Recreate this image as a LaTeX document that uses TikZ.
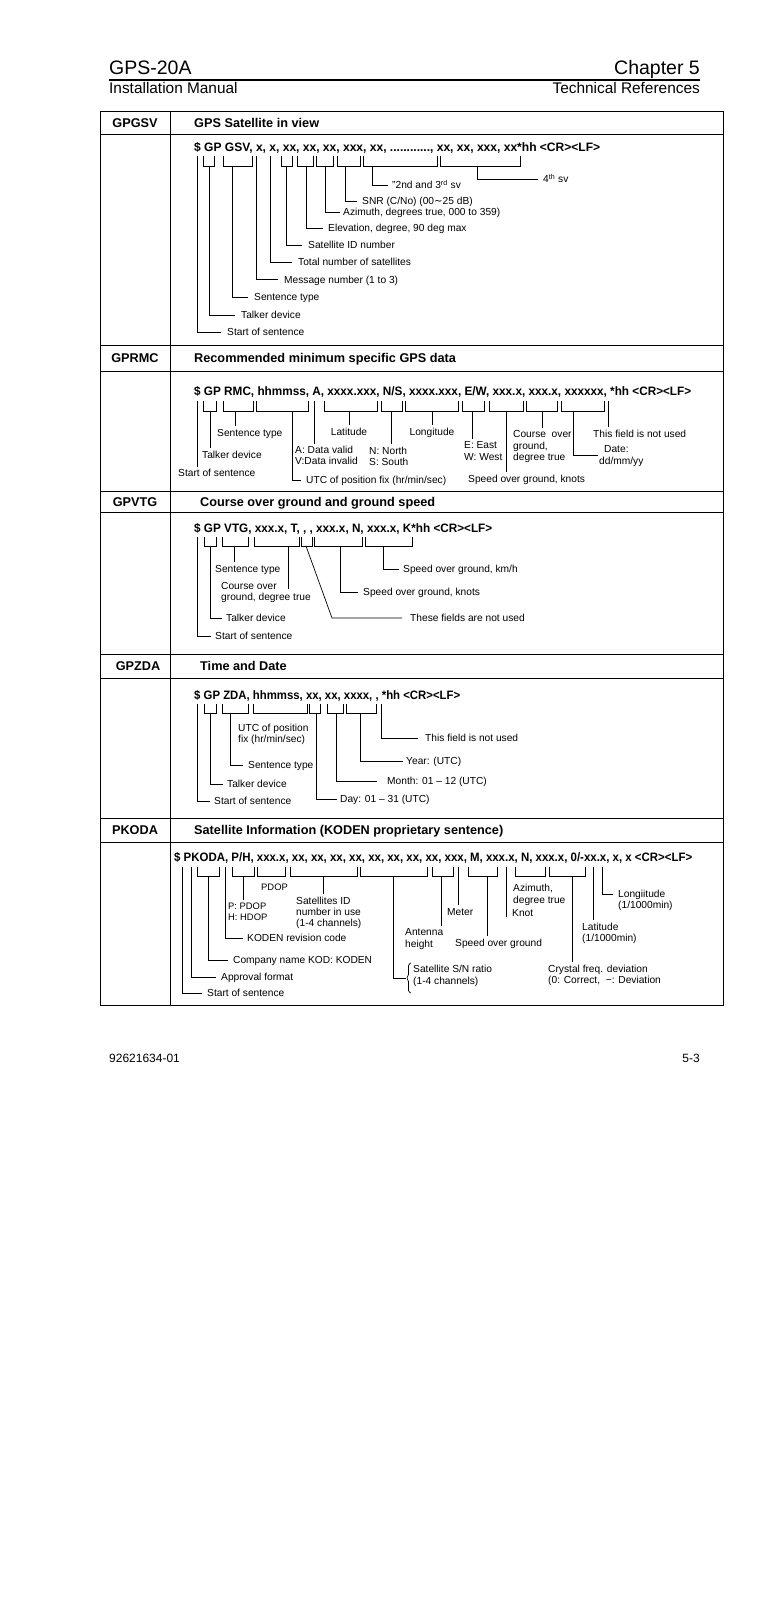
\documentclass[tikz,border=0pt]{standalone}
\usepackage{fontspec}
\usepackage{graphicx}
\setmainfont{Liberation Sans}
\newfontfamily\dvs{DejaVu Sans}
\newcommand\lblf{\fontsize{10.2}{11.4}\selectfont}
\newcommand\lblsf{\fontsize{9.4}{11.4}\selectfont}
\newcommand\snf{\fontsize{12.2}{14}\selectfont\bfseries}
\newcommand\hdf{\fontsize{12.7}{14}\selectfont\bfseries}
\newcommand\sent[2]{\resizebox{#1pt}{\height}{\snf #2}}
\begin{document}
\begin{tikzpicture}[x=1pt,y=-1pt,
  tbl/.style={line width=1pt},
  ln/.style={line width=0.7pt},
  lab/.style={font=\lblf, inner sep=0pt, anchor=west, text height=7.3pt, text depth=0pt},
  mlab/.style={font=\lblf, inner sep=0pt, anchor=north west, align=left},
  snt/.style={inner sep=0pt, anchor=base west},
  rowlab/.style={font=\hdf, inner sep=0pt, anchor=base},
  hdr/.style={font=\hdf, inner sep=0pt, anchor=base west},
  pghd/.style={font=\fontsize{19.5}{22}\selectfont, inner sep=0pt},
  pgsub/.style={font=\fontsize{15.4}{18}\selectfont, inner sep=0pt},
  foot/.style={font=\fontsize{12}{14}\selectfont, inner sep=0pt}]
\useasboundingbox (0,0) rectangle (778,1600);
\fill[white] (0,0) rectangle (778,1600);

% ---------- page header ----------
\node[pghd, anchor=base west] (model) at (109,75) {GPS-20A};
\node[pghd, anchor=base east] (chap) at (700,75) {Chapter 5};
\coordinate (rulel) at (109,80);
\coordinate (ruler) at (700,80);
\draw[line width=1.3pt] (rulel) -- (ruler);
\node[pgsub, anchor=base west] (manual) at (109,94) {Installation Manual};
\node[pgsub, anchor=base east] (techref) at (700,94) {Technical References};

% ---------- table ----------
\draw[tbl] (100,112) rectangle (723,1005);
\draw[tbl] (170,112) -- (170,1005);
\foreach \yy in {135,345,371,491,512,654,678,818,842} \draw[tbl] (100,\yy) -- (723,\yy);

\node[rowlab] (r1) at (135,128) {GPGSV};
\node[hdr] (h1) at (194,128) {GPS Satellite in view};
\node[rowlab] (r2) at (135,362.5) {GPRMC};
\node[hdr] (h2) at (194,362.5) {Recommended minimum specific GPS data};
\node[rowlab] (r3) at (135,506) {GPVTG};
\node[hdr] (h3) at (200,506) {Course over ground and ground speed};
\node[rowlab] (r4) at (138,670.5) {GPZDA};
\node[hdr] (h4) at (200,670.5) {Time and Date};
\node[rowlab] (r5) at (135,834.5) {PKODA};
\node[hdr] (h5) at (194,834.5) {Satellite Information (KODEN proprietary sentence)};

% ---------- GPGSV ----------
\node[snt] (s1) at (194,151) {\sent{406}{\$ GP GSV, x, x, xx, xx, xx, xxx, xx, ............, xx, xx, xxx, xx*hh <CR><LF>}};
\node[lab] (gsv-sos) at (227,332) {Start of sentence};
\draw[ln] (197,156) |- ([xshift=-6pt]gsv-sos.west);
\draw[ln] (203,156) |- (214,166) -- (214,156);
\node[lab] (gsv-td) at (241,315) {Talker device};
\draw[ln] (209,166) |- ([xshift=-6pt]gsv-td.west);
\draw[ln] (223,156) |- (252,166) -- (252,156);
\node[lab] (gsv-st) at (254,297) {Sentence type};
\draw[ln] (232,166) |- ([xshift=-6pt]gsv-st.west);
\node[lab] (gsv-mn) at (284,279.5) {Message number (1 to 3)};
\draw[ln] (256.5,156) |- ([xshift=-6pt]gsv-mn.west);
\node[lab] (gsv-tn) at (298,262) {Total number of satellites};
\draw[ln] (270,156) |- ([xshift=-6pt]gsv-tn.west);
\draw[ln] (281,156) |- (292,166) -- (292,156);
\node[lab] (gsv-id) at (308,245) {Satellite ID number};
\draw[ln] (286,166) |- ([xshift=-6pt]gsv-id.west);
\draw[ln] (297,156) |- (313,166) -- (313,156);
\node[lab] (gsv-el) at (328,228) {Elevation, degree, 90 deg max};
\draw[ln] (306,166) |- ([xshift=-5pt]gsv-el.west);
\draw[ln] (316,156) |- (333,166) -- (333,156);
\node[lab] (gsv-az) at (343,212) {Azimuth, degrees true, 000 to 359)};
\draw[ln] (325,166) |- ([xshift=-3pt]gsv-az.west);
\draw[ln] (337,156) |- (360,166) -- (360,156);
\node[lab] (gsv-snr) at (362,201) {SNR (C/No) (00{\dvs ∼}25 dB)};
\draw[ln] (345,166) |- ([xshift=-5pt]gsv-snr.west);
\draw[ln] (363,156) |- (437,166) -- (437,156);
\node[lab] (gsv-23) at (392,185) {"2nd and 3\textsuperscript{rd} sv};
\draw[ln] (372,166) |- ([xshift=-4pt]gsv-23.west);
\draw[ln] (440,156) |- (520,166) -- (520,156);
\node[lab] (gsv-4) at (543,179) {4\textsuperscript{th} sv};
\draw[ln] (477,166) |- ([xshift=-5pt]gsv-4.west);

% ---------- GPRMC ----------
\node[snt] (s2) at (194,395) {\sent{497}{\$ GP RMC, hhmmss, A, xxxx.xxx, N/S, xxxx.xxx, E/W, xxx.x, xxx.x, xxxxxx, *hh <CR><LF>}};
\node[lab] (rmc-sos) at (178,473) {Start of sentence};
\draw[ln] (197,401) -- ([yshift=2pt]rmc-sos.north -| 197,0);
\draw[ln] (203,401) |- (216,411) -- (216,401);
\node[lab] (rmc-td) at (202,455) {Talker device};
\draw[ln] (210,411) -- ([yshift=3pt]rmc-td.north -| 210,0);
\draw[ln] (223,401) |- (253,411) -- (253,401);
\node[lab] (rmc-st) at (217,433) {Sentence type};
\draw[ln] (235,411) -- ([yshift=3pt]rmc-st.north -| 235,0);
\draw[ln] (256,401) |- (308,411) -- (308,401);
\node[lab] (rmc-utc) at (306,480) {UTC of position fix (hr/min/sec)};
\draw[ln] (292,411) |- ([xshift=-5pt]rmc-utc.west);
\node[mlab] (rmc-a) at (295,445.5) {A: Data valid\\V:Data invalid};
\draw[ln] (314,401) -- ([yshift=2pt]rmc-a.north -| 314,0);
\draw[ln] (324,401) |- (377,411) -- (377,401);
\node[lab, anchor=center] (rmc-lat) at (349,432) {Latitude};
\draw[ln] (349,411) -- ([yshift=3pt]rmc-lat.north);
\draw[ln] (381,401) |- (402,411) -- (402,401);
\node[mlab] (rmc-ns) at (369,447) {N: North\\S: South};
\draw[ln] (391,411) -- ([yshift=3pt]rmc-ns.north -| 391,0);
\draw[ln] (405,401) |- (458,411) -- (458,401);
\node[lab, anchor=center] (rmc-lon) at (432,432) {Longitude};
\draw[ln] (432,411) -- ([yshift=3pt]rmc-lon.north);
\draw[ln] (462,401) |- (484,411) -- (484,401);
\node[mlab] (rmc-ew) at (464,441.5) {E: East\\W: West};
\draw[ln] (472,411) -- ([yshift=3pt]rmc-ew.north -| 472,0);
\draw[ln] (489,401) |- (523,411) -- (523,401);
\node[lab] (rmc-sog) at (468,479) {Speed over ground, knots};
\draw[ln] (506,411) -- ([yshift=3pt]rmc-sog.north -| 506,0);
\draw[ln] (526,401) |- (557,411) -- (557,401);
\node[mlab] (rmc-cog) at (513,430.5) {Course\ \ over\\ground,\\degree true};
\draw[ln] (542,411) -- ([yshift=3pt]rmc-cog.north -| 542,0);
\draw[ln] (561,401) |- (604,411) -- (604,401);
\node[lab] (rmc-date) at (604,449) {Date:};
\node[lab] (rmc-dmy) at (599,461) {dd/mm/yy};
\coordinate (rmc-dl) at (598,455);
\draw[ln] (573,411) |- (rmc-dl);
\node[lab] (rmc-nu) at (593,434) {This field is not used};
\draw[ln] (608,401) -- ([yshift=3pt]rmc-nu.north -| 608,0);

% ---------- GPVTG ----------
\node[snt] (s3) at (194,532) {\sent{298}{\$ GP VTG, xxx.x, T, , , xxx.x, N, xxx.x, K*hh <CR><LF>}};
\node[lab] (vtg-sos) at (215,636) {Start of sentence};
\draw[ln] (197,537) |- ([xshift=-4pt]vtg-sos.west);
\draw[ln] (204,537) |- (216,546) -- (216,537);
\node[lab] (vtg-td) at (226,618) {Talker device};
\draw[ln] (210,546) |- ([xshift=-4pt]vtg-td.west);
\draw[ln] (222,537) |- (248,546) -- (248,537);
\node[lab] (vtg-st) at (215,569) {Sentence type};
\draw[ln] (234,546) -- ([yshift=3pt]vtg-st.north -| 234,0);
\draw[ln] (254,537) |- (299,546) -- (299,537);
\node[mlab] (vtg-cog) at (221,582) {Course over\\ground, degree true};
\draw[ln] (288,546) -- (288,589);
\draw[ln] (301,537) |- (312,546) -- (312,537);
\node[lab] (vtg-nu) at (410,618) {These fields are not used};
\coordinate (vtg-bend) at (332,618);
\draw[ln] (306,546) -- (vtg-bend) -- ([xshift=-8pt]vtg-nu.west);
\draw[ln] (314,537) |- (362,546) -- (362,537);
\node[lab] (vtg-kn) at (363,592) {Speed over ground, knots};
\draw[ln] (340,546) |- ([xshift=-5pt]vtg-kn.west);
\draw[ln] (365,537) |- (412,546) -- (412,537);
\node[lab] (vtg-km) at (403,569) {Speed over ground, km/h};
\draw[ln] (383,546) |- ([xshift=-4pt]vtg-km.west);

% ---------- GPZDA ----------
\node[snt] (s4) at (194,699) {\sent{266}{\$ GP ZDA, hhmmss, xx, xx, xxxx, , *hh <CR><LF>}};
\node[lab] (zda-sos) at (214,801) {Start of sentence};
\draw[ln] (197,704) |- ([xshift=-4pt]zda-sos.west);
\draw[ln] (204,704) |- (216,713) -- (216,704);
\node[lab] (zda-td) at (227,784) {Talker device};
\draw[ln] (210,713) |- ([xshift=-4pt]zda-td.west);
\draw[ln] (222,704) |- (248,713) -- (248,704);
\node[lab] (zda-st) at (248,765) {Sentence type};
\draw[ln] (230,713) |- ([xshift=-5pt]zda-st.west);
\draw[ln] (253,704) |- (307,713) -- (307,704);
\node[mlab] (zda-utc) at (238,724) {UTC of position\\fix (hr/min/sec)};
\draw[ln] (309,704) |- (320,713) -- (320,704);
\node[lab] (zda-day) at (340,799) {Day: 01 -- 31 (UTC)};
\draw[ln] (316,713) |- ([xshift=-3pt]zda-day.west);
\draw[ln] (327,704) |- (343,713) -- (343,704);
\node[lab] (zda-mon) at (387,781) {Month: 01 -- 12 (UTC)};
\draw[ln] (336,713) |- ([xshift=-10pt]zda-mon.west);
\draw[ln] (346,704) |- (376,713) -- (376,704);
\node[lab] (zda-yr) at (406,761) {Year: (UTC)};
\draw[ln] (360,713) |- ([xshift=-3pt]zda-yr.west);
\node[lab] (zda-nu) at (425,738) {This field is not used};
\draw[ln] (381,704) |- ([xshift=-7pt]zda-nu.west);

% ---------- PKODA ----------
\node[snt] (s5) at (174,861) {\sent{518}{\$ PKODA, P/H, xxx.x, xx, xx, xx, xx, xx, xx, xx, xx, xxx, M, xxx.x, N, xxx.x, 0/-xx.x, x, x <CR><LF>}};
\node[lab] (pk-sos) at (207,993) {Start of sentence};
\draw[ln] (182,867) |- ([xshift=-5pt]pk-sos.west);
\node[lab] (pk-af) at (221,977) {Approval format};
\draw[ln] (191,867) |- ([xshift=-5pt]pk-af.west);
\draw[ln] (197,867) |- (219,876) -- (219,867);
\node[lab] (pk-cn) at (233,960) {Company name KOD: KODEN};
\draw[ln] (208,876) |- ([xshift=-5pt]pk-cn.west);
\node[lab] (pk-rc) at (247,938) {KODEN revision code};
\draw[ln] (225,867) |- ([xshift=-4pt]pk-rc.west);
\draw[ln] (232,867) |- (254,876) -- (254,867);
\node[mlab, font=\lblsf] (pk-ph) at (228,902.5) {P: PDOP\\H: HDOP};
\draw[ln] (243,876) -- ([yshift=3pt]pk-ph.north -| 243,0);
\draw[ln] (257,867) |- (285,876) -- (285,867);
\node[lab, font=\lblsf] (pk-pdop) at (261,887) {PDOP};
\draw[ln] (290,867) |- (357,876) -- (357,867);
\node[mlab] (pk-sid) at (296,896.5) {Satellites ID\\number in use\\(1-4 channels)};
\draw[ln] (323,876) -- ([yshift=3pt]pk-sid.north -| 323,0);
\draw[ln] (360,867) |- (427,876) -- (427,867);
\node[mlab] (pk-sn) at (413,965) {Satellite S/N ratio\\(1-4 channels)};
\coordinate (pk-bm) at (406,978);
\draw[ln, rounded corners=1.5pt] (411,963) -- (408.5,964) -- (408.5,976) -- (pk-bm) -- (408.5,980) -- (408.5,992) -- (411,993);
\draw[ln] (393,876) |- (pk-bm);
\draw[ln] (432,867) |- (453,876) -- (453,867);
\node[mlab] (pk-ant) at (405,928.5) {Antenna\\height};
\draw[ln] (441,876) -- ([yshift=3pt]pk-ant.north -| 441,0);
\node[lab] (pk-m) at (447,912) {Meter};
\draw[ln] (458,867) -- ([yshift=3pt]pk-m.north -| 458,0);
\draw[ln] (468,867) |- (497,876) -- (497,867);
\node[lab] (pk-sog) at (455,943) {Speed over ground};
\draw[ln] (487,876) -- ([yshift=3pt]pk-sog.north -| 487,0);
\node[lab] (pk-kn) at (512,913) {Knot};
\draw[ln] (506,867) -- (pk-kn.south -| 506,0);
\draw[ln] (515,867) |- (545,876) -- (545,867);
\node[mlab] (pk-az) at (513,884) {Azimuth,\\degree true};
\draw[ln] (549,867) |- (585,876) -- (585,867);
\node[mlab] (pk-cf) at (548,964.5) {Crystal freq. deviation\\(0: Correct,\ \ −: Deviation};
\draw[ln] (572,876) -- ([yshift=3pt]pk-cf.north -| 572,0);
\node[mlab] (pk-lat) at (582,922.5) {Latitude\\(1/1000min)};
\draw[ln] (593,867) -- ([yshift=3pt]pk-lat.north -| 593,0);
\node[mlab] (pk-lon) at (618,889.5) {Longiitude\\(1/1000min)};
\coordinate (pk-lonl) at (613,894);
\draw[ln] (602,867) |- (pk-lonl);

% ---------- footer ----------
\node[foot, anchor=base west] (docno) at (109,1062) {92621634-01};
\node[foot, anchor=base east] (pageno) at (700,1062) {5-3};
\end{tikzpicture}
\end{document}
